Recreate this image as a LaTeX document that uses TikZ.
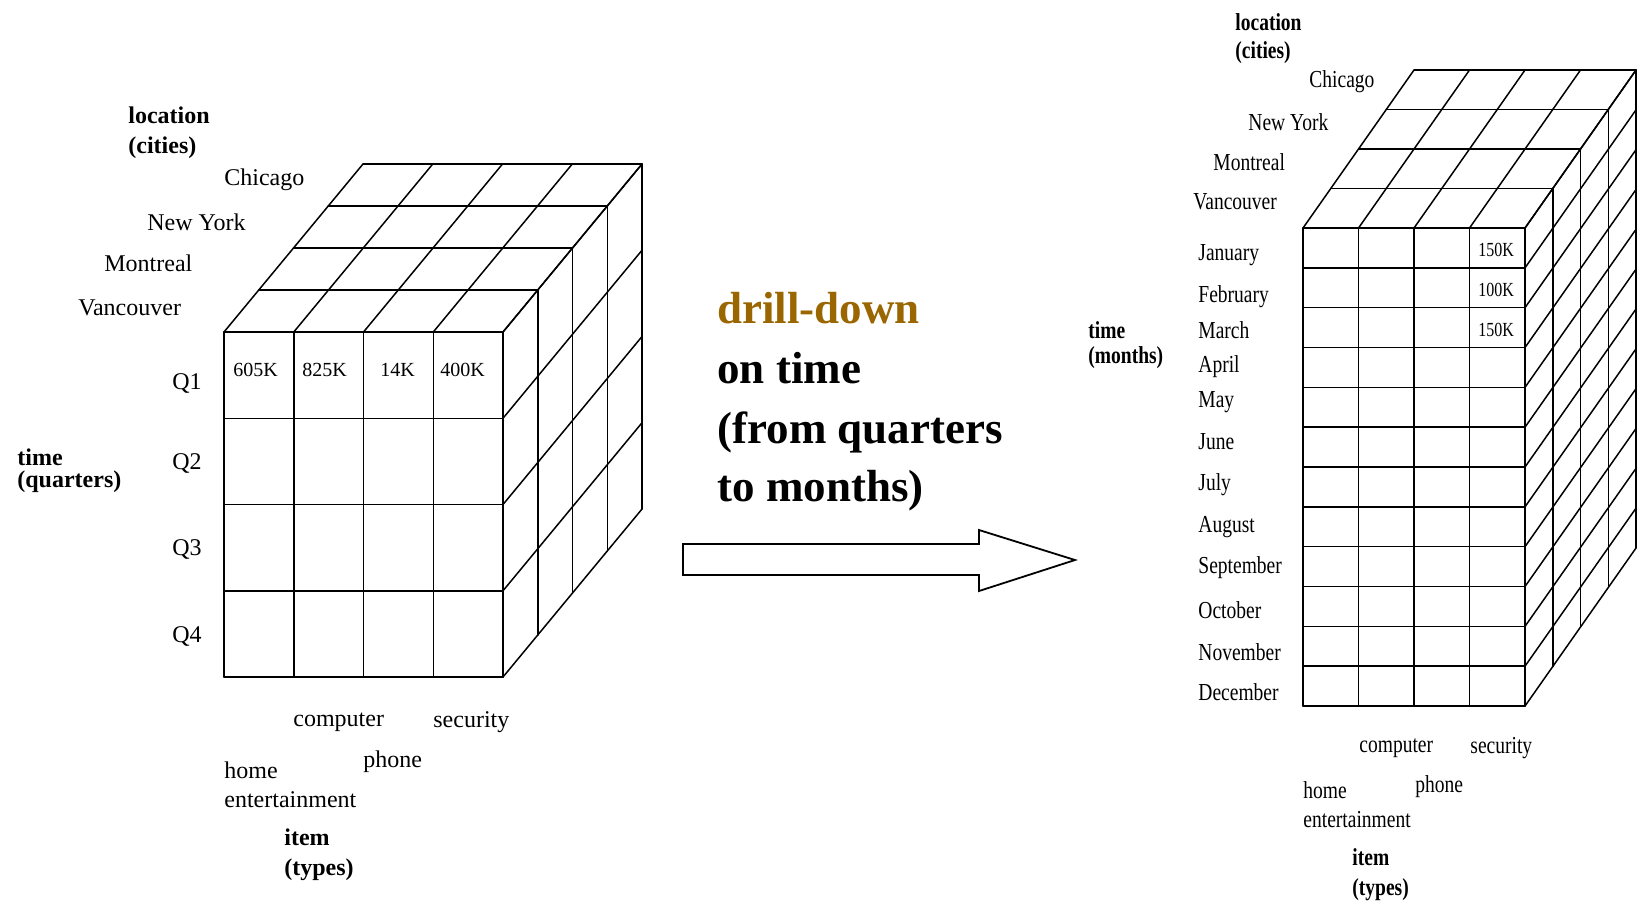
\documentclass[tikz,border=0pt]{standalone}
\usepackage{fontspec}
\setmainfont{Liberation Serif}
\newfontfamily\condfont[FakeStretch=0.8]{Liberation Serif}
\definecolor{drillbrown}{RGB}{153,102,0}
\begin{document}
\begin{tikzpicture}[x=0.5pt,y=-0.5pt,
  lbl/.style={anchor=west, inner sep=0pt, font=\fontsize{12}{14}\selectfont},
  lblb/.style={anchor=west, inner sep=0pt, font=\fontsize{12}{14}\selectfont\bfseries},
  rlbl/.style={anchor=west, inner sep=0pt, font=\condfont\fontsize{12.2}{14}\selectfont},
  rlblb/.style={anchor=west, inner sep=0pt, font=\condfont\fontsize{12.2}{14}\selectfont\bfseries},
  val/.style={anchor=west, inner sep=0pt, font=\fontsize{10}{12}\selectfont},
  rval/.style={anchor=west, inner sep=0pt, font=\condfont\fontsize{10}{12}\selectfont},
  big/.style={anchor=base west, inner sep=0pt, font=\fontsize{22.5}{27}\selectfont\bfseries},
  gridline/.style={line width=0.75pt, line cap=round},
  blockarrow/.style={line width=0.9pt, fill=white, line join=miter}]
\useasboundingbox (0,0) rectangle (1637,902);

% ---------------- left cube ----------------
\foreach \i in {0,...,4} {\draw[gridline] ({224+\i*69.75},332) -- ++(0,345);}
\foreach \j in {0,...,4} {\draw[gridline] (224,{332+\j*86.25}) -- ++(279,0);}
\foreach \k in {1,...,4} {\draw[gridline] ({224+\k*34.75},{332-\k*42}) -- ++(279,0);}
\foreach \i in {0,...,4} {\draw[gridline] ({224+\i*69.75},332) -- ++(139,-168);}
\foreach \k in {1,...,4} {\draw[gridline] ({503+\k*34.75},{332-\k*42}) -- ++(0,345);}
\foreach \j in {0,...,4} {\draw[gridline] (503,{332+\j*86.25}) -- ++(139,-168);}

\node[lblb] (lloc) at (128,115) {location};
\node[lblb] (lcit) at (128,148) {(cities)};
\node[lbl] (lchi) at (224,180) {Chicago};
\node[lbl] (lny) at (147,222) {New York};
\node[lbl] (lmon) at (104,263) {Montreal};
\node[lbl] (lvan) at (78,308) {Vancouver};
\node[lbl] (lq1) at (172,383) {Q1};
\node[lbl] (lq2) at (172,463) {Q2};
\node[lbl] (lq3) at (172,549) {Q3};
\node[lbl] (lq4) at (172,636) {Q4};
\node[lblb] (ltime) at (17,457) {time};
\node[lblb] (lquar) at (17,482) {(quarters)};
\node[val] (v1) at (233,370) {605K};
\node[val] (v2) at (302,370) {825K};
\node[val] (v3) at (380,370) {14K};
\node[val] (v4) at (440,370) {400K};
\node[lbl] (lcomp) at (293,722) {computer};
\node[lbl] (lsec) at (433,722) {security};
\node[lbl] (lhome) at (224,770) {home};
\node[lbl] (lphone) at (363,762) {phone};
\node[lbl] (lent) at (224,800) {entertainment};
\node[lblb] (litem) at (284,837) {item};
\node[lblb] (ltyp) at (284,870) {(types)};

% ---------------- arrow and caption ----------------
\draw[blockarrow] (683,544) -- (979,544) -- (979,530) -- (1075,560) -- (979,591) -- (979,575) -- (683,575) -- cycle;
\node[big, text=drillbrown] (t1) at (717,323) {drill-down};
\node[big] (t2) at (717,383) {on time};
\node[big] (t3) at (717,443) {(from quarters};
\node[big] (t4) at (717,501) {to months)};

% ---------------- right cube ----------------
\foreach \i in {0,...,4} {\draw[gridline] ({1303+\i*55.5},228) -- ++(0,478);}
\foreach \j in {0,...,12} {\draw[gridline] (1303,{228+\j*39.833}) -- ++(222,0);}
\foreach \k in {1,...,4} {\draw[gridline] ({1303+\k*27.75},{228-\k*39.5}) -- ++(222,0);}
\foreach \i in {0,...,4} {\draw[gridline] ({1303+\i*55.5},228) -- ++(111,-158);}
\foreach \k in {1,...,4} {\draw[gridline] ({1525+\k*27.75},{228-\k*39.5}) -- ++(0,478);}
\foreach \j in {0,...,12} {\draw[gridline] (1525,{228+\j*39.833}) -- ++(111,-158);}

\node[rlblb] (rloc) at (1235,22) {location};
\node[rlblb] (rcit) at (1235,53) {(cities)};
\node[rlbl] (rchi) at (1309,82) {Chicago};
\node[rlbl] (rny) at (1248,122) {New York};
\node[rlbl] (rmon) at (1213,162) {Montreal};
\node[rlbl] (rvan) at (1193,202) {Vancouver};
\node[rlblb] (rtime) at (1088,330) {time};
\node[rlblb] (rmonths) at (1088,358) {(months)};
\node[rlbl] (m1) at (1198,255) {January};
\node[rlbl] (m2) at (1198,297) {February};
\node[rlbl] (m3) at (1198,330) {March};
\node[rlbl] (m4) at (1198,367) {April};
\node[rlbl] (m5) at (1198,402) {May};
\node[rlbl] (m6) at (1198,442) {June};
\node[rlbl] (m7) at (1198,485) {July};
\node[rlbl] (m8) at (1198,527) {August};
\node[rlbl] (m9) at (1198,568) {September};
\node[rlbl] (m10) at (1198,610) {October};
\node[rlbl] (m11) at (1198,652) {November};
\node[rlbl] (m12) at (1198,692) {December};
\node[rval] (r1) at (1478,250) {150K};
\node[rval] (r2) at (1478,290) {100K};
\node[rval] (r3) at (1478,330) {150K};
\node[rlbl] (rcomp) at (1359,748) {computer};
\node[rlbl] (rsec) at (1470,748) {security};
\node[rlbl] (rhome) at (1303,790) {home};
\node[rlbl] (rphone) at (1415,787) {phone};
\node[rlbl] (rent) at (1303,820) {entertainment};
\node[rlblb] (ritem) at (1352,857) {item};
\node[rlblb] (rtyp) at (1352,890) {(types)};
\end{tikzpicture}
\end{document}
